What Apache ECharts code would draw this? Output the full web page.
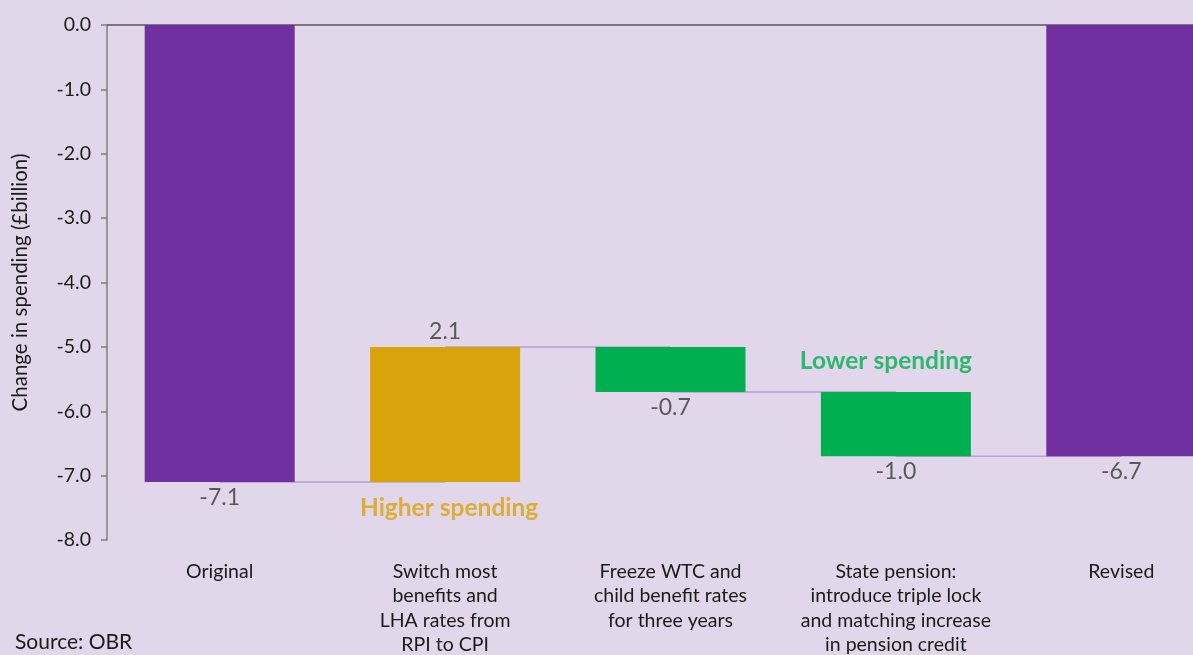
<!DOCTYPE html>
<html>
<head>
<meta charset="utf-8">
<title>Change in welfare spending</title>
<script src="https://cdn.jsdelivr.net/npm/echarts@6/dist/echarts.min.js"></script>
<style>
  html, body { margin: 0; padding: 0; background: #e2d6ea; overflow: hidden; }
  #chart { width: 1193px; height: 655px; }
</style>
</head>
<body>
<div id="chart"></div>
<script>
// Waterfall data (£billion)
const categories = [
  'Original',
  'Switch most\nbenefits and\nLHA rates from\nRPI to CPI',
  'Freeze WTC and\nchild benefit rates\nfor three years',
  'State pension:\nintroduce triple lock\nand matching increase\nin pension credit',
  'Revised'
];
const changes = [-7.1, 2.1, -0.7, -1.0, -6.7];
const kinds = ['total', 'step', 'step', 'step', 'total'];
const annotations = ['Higher spending', 'Lower spending'];
const annotationPos = [[1, -7.5], [3, -5.22]];

const COLORS = { total: '#7030a0', up: '#d9a40b', down: '#00b050' };
const FONT = 'Lato';

// Work out floating bar positions from the running total
const baseVals = [];
const barVals = [];
const levels = [];
let level = 0;
changes.forEach((c, i) => {
  if (kinds[i] === 'total') {
    baseVals.push(0);
    barVals.push(c);
    level = c;
  } else {
    const next = +(level + c).toFixed(2);
    baseVals.push(Math.max(level, next));
    barVals.push(-Math.abs(c));
    level = next;
  }
  levels.push(level);
});

const barData = barVals.map((v, i) => {
  const color = kinds[i] === 'total' ? COLORS.total : (changes[i] > 0 ? COLORS.up : COLORS.down);
  return {
    value: v,
    itemStyle: { color },
    label: { position: changes[i] > 0 && kinds[i] !== 'total' ? 'top' : 'bottom' }
  };
});

const connectorData = levels.slice(0, -1).map((lv, i) => [i, lv]);

const chart = echarts.init(document.getElementById('chart'));
chart.setOption({
  backgroundColor: '#e2d6ea',
  animation: false,
  grid: { left: 107, right: -41, top: 25, bottom: 115, outerBoundsMode: 'none', containLabel: false },
  xAxis: [
    {
      type: 'category',
      data: categories,
      position: 'bottom',
      axisLine: { show: false, onZero: false },
      axisTick: { show: false },
      axisLabel: {
        interval: 0,
        margin: 19,
        color: '#1a1a1a',
        fontFamily: FONT,
        fontSize: 19.5,
        lineHeight: 24.5,
        verticalAlign: 'top'
      }
    },
    {
      type: 'category',
      data: categories,
      position: 'top',
      axisLine: { show: true, onZero: false, lineStyle: { color: '#595959', width: 1.5 } },
      axisTick: { show: false },
      axisLabel: { show: false }
    }
  ],
  yAxis: {
    type: 'value',
    min: -8,
    max: 0,
    interval: 1,
    name: 'Change in spending (£billion)',
    nameLocation: 'middle',
    nameRotate: 90,
    nameGap: 76,
    nameTextStyle: { color: '#1a1a1a', fontFamily: FONT, fontSize: 20.5 },
    axisLine: { show: true, lineStyle: { color: '#7f7f7f', width: 1.5 } },
    axisTick: { show: true, length: 6, lineStyle: { color: '#7f7f7f', width: 1.5 } },
    splitLine: { show: false },
    axisLabel: {
      margin: 16,
      color: '#1a1a1a',
      fontFamily: FONT,
      fontSize: 19.5,
      formatter: v => v.toFixed(1)
    }
  },
  series: [
    {
      type: 'custom',
      name: 'connector',
      z: 1,
      silent: true,
      data: connectorData,
      renderItem: (params, api) => {
        const a = api.coord([api.value(0), api.value(1)]);
        const b = api.coord([api.value(0) + 1, api.value(1)]);
        return {
          type: 'line',
          shape: { x1: a[0], y1: a[1], x2: b[0], y2: b[1] },
          style: { stroke: '#b99fd3', lineWidth: 1.5 }
        };
      }
    },
    {
      type: 'bar',
      name: 'base',
      stack: 'wf',
      barWidth: 150,
      z: 2,
      silent: true,
      itemStyle: { color: 'transparent' },
      data: baseVals
    },
    {
      type: 'bar',
      name: 'change',
      stack: 'wf',
      barWidth: 150,
      z: 3,
      data: barData,
      label: {
        show: true,
        distance: 4,
        color: '#595959',
        fontFamily: FONT,
        fontSize: 23,
        formatter: p => changes[p.dataIndex].toFixed(1)
      }
    },
    {
      type: 'scatter',
      name: 'notes',
      symbolSize: 0,
      silent: true,
      z: 4,
      data: annotationPos.map((p, i) => ({
        value: p,
        label: {
          formatter: annotations[i],
          color: i === 0 ? COLORS.up : COLORS.down,
          offset: i === 0 ? [4, 0] : [-10, 0]
        }
      })),
      label: {
        show: true,
        position: 'inside',
        fontFamily: FONT,
        fontWeight: 'bold',
        fontSize: 24.5
      }
    }
  ],
  graphic: [
    {
      type: 'text',
      left: 15,
      top: 632,
      style: { text: 'Source: OBR', fill: '#1a1a1a', font: '21px ' + FONT }
    }
  ]
});
</script>
</body>
</html>
